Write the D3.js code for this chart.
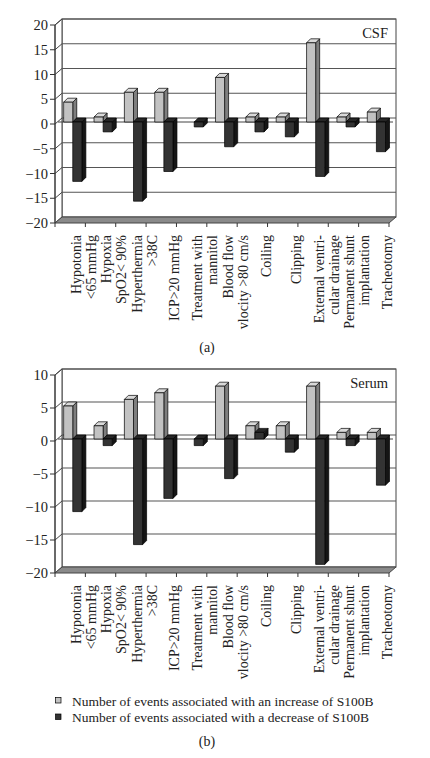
<!DOCTYPE html>
<html>
<head>
<meta charset="utf-8">
<script src="https://cdn.jsdelivr.net/npm/d3@7"></script>
<style>
  html, body { margin: 0; padding: 0; background: #fff; }
  svg { display: block; font-family: "Liberation Serif", "DejaVu Serif", serif; }
</style>
</head>
<body>
<svg id="chart" width="430" height="758"></svg>
<script>
// ---------- DATA ----------
const categories = [
  ["Hypotonia", "<65 mmHg"],
  ["Hypoxia", "SpO2< 90%"],
  ["Hyperthermia", ">38C"],
  ["ICP>20 mmHg"],
  ["Treatment with", "mannitol"],
  ["Blood flow", "vlocity >80 cm/s"],
  ["Coiling"],
  ["Clipping"],
  ["External ventri-", "cular drainage"],
  ["Permanent shunt", "implantation"],
  ["Tracheotomy"]
];
const csfIncrease   = [4, 1, 6, 6, 0, 9, 1, 1, 16, 1, 2];
const csfDecrease   = [-12, -2, -16, -10, -1, -5, -2, -3, -11, -1, -6];
const serumIncrease = [5, 2, 6, 7, 0, 8, 2, 2, 8, 1, 1];
const serumDecrease = [-11, -1, -16, -9, -1, -6, 1, -2, -19, -1, -7];
const csfTicks   = [-20, -15, -10, -5, 0, 5, 10, 15, 20];
const serumTicks = [-20, -15, -10, -5, 0, 5, 10];
const legendLabels = [
  "Number of events associated with an increase of S100B",
  "Number of events associated with a decrease of S100B"
];

// ---------- STYLE ----------
const DX = 7, DY = 6;        // wall depth
const BD = 4;                // bar depth
const X0 = 55, X1 = 389;
const lightCol = { front: "#c2c2c2", side: "#7e7e7e", top: "#d9d9d9" };
const darkCol  = { front: "#333333", side: "#151515", top: "#262626" };

const svg = d3.select("#chart");

function drawPanel(cfg) {
  const g = svg.append("g");
  const y = d3.scaleLinear().domain(cfg.domain).range([cfg.bottom, cfg.top]);
  const x = d3.scaleBand().domain(d3.range(categories.length)).range([X0, X1]).padding(0);
  const bw = x.bandwidth();
  const top = y(cfg.domain[1]), bottom = y(cfg.domain[0]);

  // back wall
  g.append("rect").attr("x", X0 + DX).attr("y", top - DY)
    .attr("width", X1 - X0).attr("height", bottom - top)
    .attr("fill", "#fff").attr("stroke", "#444").attr("stroke-width", 1);
  // left side wall
  g.append("polygon")
    .attr("points", [[X0, top], [X0 + DX, top - DY], [X0 + DX, bottom - DY], [X0, bottom]].join(" "))
    .attr("fill", "#fff").attr("stroke", "#444").attr("stroke-width", 1);

  // gridlines
  cfg.ticks.forEach(t => {
    if (t === cfg.domain[0]) return;
    g.append("line").attr("x1", X0 + DX).attr("x2", X1 + DX)
      .attr("y1", y(t) - DY).attr("y2", y(t) - DY)
      .attr("stroke", "#555").attr("stroke-width", 1.1);
    g.append("line").attr("x1", X0).attr("x2", X0 + DX)
      .attr("y1", y(t)).attr("y2", y(t) - DY)
      .attr("stroke", "#444").attr("stroke-width", 1);
  });

  // floor
  g.append("polygon")
    .attr("points", [[X0, bottom], [X0 + DX, bottom - DY], [X1 + DX, bottom - DY], [X1, bottom]].join(" "))
    .attr("fill", "#8a8a8a").attr("stroke", "#444").attr("stroke-width", 1);

  // zero plane line
  g.append("line").attr("x1", X0 + 3).attr("x2", X1 + 4)
    .attr("y1", y(0) - 2).attr("y2", y(0) - 2)
    .attr("stroke", "#444").attr("stroke-width", 1);

  // value axis
  g.append("line").attr("x1", X0).attr("x2", X0).attr("y1", top).attr("y2", bottom)
    .attr("stroke", "#333").attr("stroke-width", 1);
  cfg.ticks.forEach(t => {
    g.append("line").attr("x1", X0 - 5).attr("x2", X0).attr("y1", y(t)).attr("y2", y(t))
      .attr("stroke", "#333").attr("stroke-width", 1);
    g.append("text").attr("x", X0 - 7).attr("y", y(t) + 5)
      .attr("text-anchor", "end").attr("font-size", 14.5).attr("fill", "#222")
      .text(t < 0 ? "\u2212" + Math.abs(t) : String(t));
  });

  // category ticks
  d3.range(categories.length + 1).forEach(i => {
    const xx = i < categories.length ? x(i) : X1;
    g.append("line").attr("x1", xx).attr("x2", xx).attr("y1", bottom).attr("y2", bottom + 4)
      .attr("stroke", "#333").attr("stroke-width", 1);
  });

  // bars
  function bar(xl, w, v, col) {
    if (v === 0) return;
    const y0 = y(0) - 2, yv = y(v) - 2;
    const a = Math.min(y0, yv), b = Math.max(y0, yv);
    const bg = g.append("g").attr("stroke", "#000").attr("stroke-width", 0.7).attr("stroke-linejoin", "round");
    bg.append("polygon").attr("points", [[xl + w, a], [xl + w + BD, a - BD], [xl + w + BD, b - BD], [xl + w, b]].join(" "))
      .attr("fill", col.side);
    bg.append("polygon").attr("points", [[xl, a], [xl + BD, a - BD], [xl + w + BD, a - BD], [xl + w, a]].join(" "))
      .attr("fill", col.top);
    bg.append("rect").attr("x", xl).attr("y", a).attr("width", w).attr("height", b - a)
      .attr("fill", col.front);
  }
  categories.forEach((c, i) => {
    const xs = x(i);
    bar(xs + 0.285 * bw, 0.3 * bw, cfg.inc[i], lightCol);
    bar(xs + 0.585 * bw, 0.3 * bw, cfg.dec[i], darkCol);
  });

  // category labels (rotated)
  categories.forEach((lines, i) => {
    const cx = (i + 1 < categories.length ? x(i + 1) : X1) - 1.5;
    const n = lines.length;
    lines.forEach((ln, k) => {
      const bx = cx + (k - (n - 1) / 2) * 15 + 4.5;
      g.append("text")
        .attr("transform", `translate(${bx},${bottom + 12}) rotate(-90)`)
        .attr("text-anchor", "end").attr("font-size", 14).attr("fill", "#222")
        .text(ln);
    });
  });

  // panel title
  g.append("text").attr("x", X1 - 1).attr("y", cfg.titleY)
    .attr("text-anchor", "end").attr("font-size", 14.5).attr("fill", "#222").text(cfg.title);

  // caption
  g.append("text").attr("x", 207).attr("y", cfg.captionY)
    .attr("text-anchor", "middle").attr("font-size", 14).attr("fill", "#222").text(cfg.caption);
}

drawPanel({
  domain: [-20, 20], top: 25, bottom: 223, ticks: csfTicks,
  inc: csfIncrease, dec: csfDecrease, title: "CSF", titleY: 38,
  caption: "(a)", captionY: 352
});
drawPanel({
  domain: [-20, 10], top: 375, bottom: 573, ticks: serumTicks,
  inc: serumIncrease, dec: serumDecrease, title: "Serum", titleY: 388,
  caption: "(b)", captionY: 746
});

// legend
const leg = svg.append("g");
[lightCol, darkCol].forEach((col, i) => {
  leg.append("rect").attr("x", 55.5).attr("y", 697.5 + i * 16.5).attr("width", 5.5).attr("height", 5.5)
    .attr("fill", col.front).attr("stroke", "#000").attr("stroke-width", 0.7);
  leg.append("text").attr("x", 72).attr("y", 705.5 + i * 16.5)
    .attr("font-size", 13.5).attr("fill", "#222").text(legendLabels[i]);
});
</script>
</body>
</html>
